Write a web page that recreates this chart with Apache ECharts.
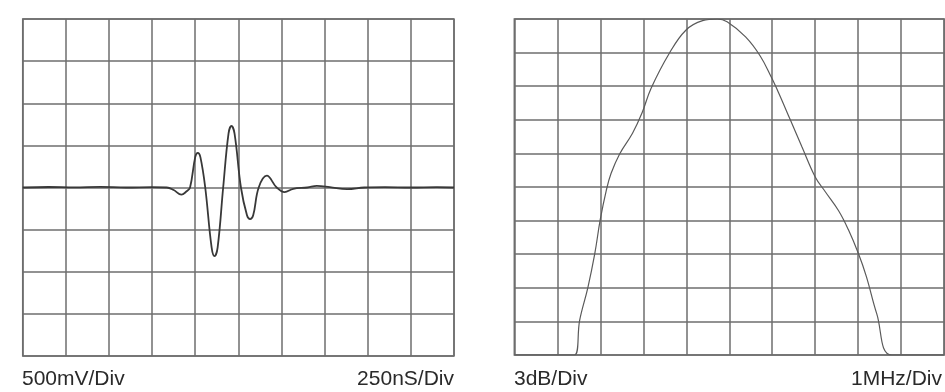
<!DOCTYPE html>
<html>
<head>
<meta charset="utf-8">
<style>
  html, body { margin: 0; padding: 0; background: #fff; }
  #chart { width: 945px; height: 392px; }
</style>
<script src="https://cdn.jsdelivr.net/npm/echarts@6/dist/echarts.min.js"></script>
</head>
<body>
<div id="chart"></div>
<script>
// Time-domain pulse: time in ns, amplitude in mV (250 ns/div, 500 mV/div)
const pulseTime = [0, 150, 300, 450, 600, 750, 835, 875, 920, 950, 970, 1000, 1015, 1030, 1058, 1095, 1112, 1130, 1162, 1193, 1210, 1228, 1265, 1300, 1318, 1336, 1368, 1415, 1472, 1518, 1568, 1650, 1705, 1780, 1880, 1980, 2100, 2250, 2400, 2500];
const pulseMv   = [0, 6, 2, 8, 0, 4, 0, -30, -85, -45, 0, 360, 410, 360, 0, -710, -815, -710, 0, 640, 730, 640, 0, -330, -375, -330, 0, 140, 0, -55, -15, 0, 20, 5, -20, 0, 5, 0, 4, 0];

// Spectrum: frequency in MHz, level in dB relative to peak (1 MHz/div, 3 dB/div)
const specMHz = [0, 1.4, 1.52, 1.71, 1.87, 2.0, 2.14, 2.25, 2.45, 2.75, 2.97, 3.18, 3.6, 3.99, 4.38, 4.72, 4.95, 5.38, 5.72, 5.98, 6.15, 6.42, 6.69, 7.0, 7.23, 7.54, 7.77, 8.0, 8.19, 8.43, 8.78, 10];
const specDb  = [-30, -30, -26.9, -24.0, -21.0, -17.9, -15.3, -13.8, -12.05, -10.2, -8.4, -6.2, -3.1, -1.0, -0.15, 0, -0.24, -1.6, -3.3, -5.2, -6.6, -9.0, -11.4, -14.1, -15.4, -17.1, -18.8, -20.9, -23.0, -26.3, -30, -30];

// Division labels
const leftLabels = ['500mV/Div', '250nS/Div'];
const rightLabels = ['3dB/Div', '1MHz/Div'];

const gridColor = '#6e6e6e';
const pair = (xs, ys) => xs.map((x, i) => [x, ys[i]]);

function valueAxis(gridIndex, min, max, interval) {
  return {
    type: 'value', gridIndex, min, max, interval,
    axisLine: { show: false }, axisTick: { show: false }, axisLabel: { show: false },
    splitLine: { show: true, lineStyle: { color: gridColor, width: 1.5 } }
  };
}

const chart = echarts.init(document.getElementById('chart'), null, { renderer: 'canvas' });
const font = '"Liberation Sans", Arial, sans-serif';

chart.setOption({
  animation: false,
  backgroundColor: '#fff',
  grid: [
    { left: 22.7, right: 491, top: 19, bottom: 36, show: true, borderColor: gridColor, borderWidth: 1.5 },
    { left: 514.3, right: 0.8, top: 19, bottom: 37, show: true, borderColor: gridColor, borderWidth: 1.5 }
  ],
  xAxis: [
    valueAxis(0, 0, 2500, 250),
    valueAxis(1, 0, 10, 1)
  ],
  yAxis: [
    valueAxis(0, -2000, 2000, 500),
    valueAxis(1, -30, 0, 3)
  ],
  series: [
    {
      type: 'line', xAxisIndex: 0, yAxisIndex: 0,
      data: pair(pulseTime, pulseMv),
      smooth: 0.4, showSymbol: false,
      lineStyle: { color: '#383838', width: 1.8 }
    },
    {
      type: 'line', xAxisIndex: 1, yAxisIndex: 1,
      data: pair(specMHz, specDb),
      smooth: 0.4, showSymbol: false,
      lineStyle: { color: '#5a5a5a', width: 1.2 }
    }
  ],
  graphic: [
    { type: 'text', left: 22, top: 369, style: { text: leftLabels[0], font: '21px ' + font, fill: '#2a2a2a' } },
    { type: 'text', right: 491, top: 369, style: { text: leftLabels[1], font: '21px ' + font, fill: '#2a2a2a' } },
    { type: 'text', left: 514, top: 369, style: { text: rightLabels[0], font: '21px ' + font, fill: '#2a2a2a' } },
    { type: 'text', right: 3, top: 369, style: { text: rightLabels[1], font: '21px ' + font, fill: '#2a2a2a' } }
  ]
});
</script>
</body>
</html>
